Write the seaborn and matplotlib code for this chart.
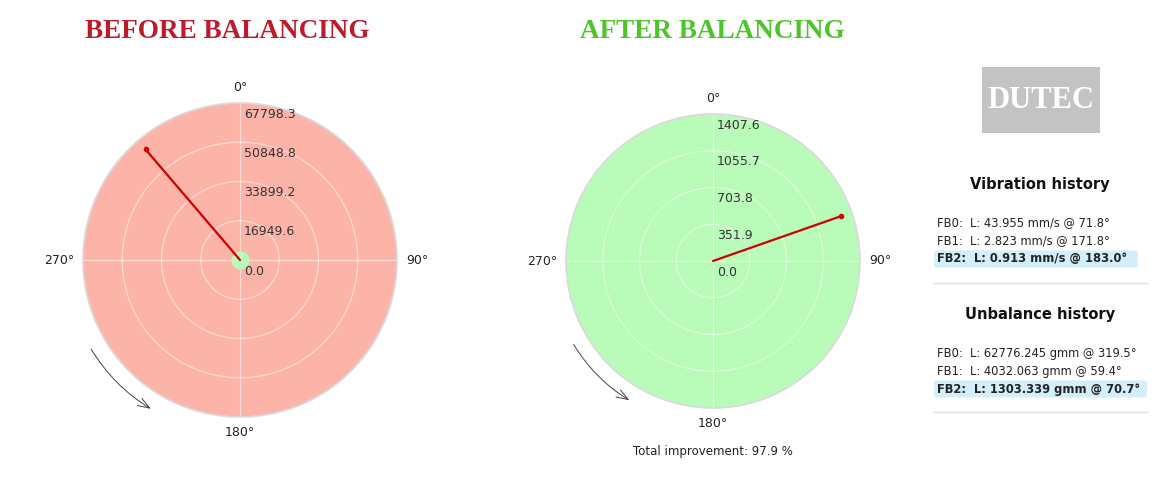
import numpy as np
import matplotlib
matplotlib.use("Agg")
import matplotlib.pyplot as plt
import seaborn as sns
from matplotlib.patches import FancyBboxPatch, Rectangle
from matplotlib.lines import Line2D

# --- data ---
before_angle = [319.5, 319.5]           # deg, unbalance FB0
before_mag = [0.0, 62776.245]           # gmm
before_ticks = [0.0, 16949.6, 33899.2, 50848.8, 67798.3]

after_angle = [70.7, 70.7]              # deg, unbalance FB2
after_mag = [0.0, 1303.339]             # gmm
after_ticks = [0.0, 351.9, 703.8, 1055.7, 1407.6]

compass_deg = [0, 90, 180, 270]
compass_lbl = ["0°", "90°", "180°", "270°"]

vib_lines = ["FB0:  L: 43.955 mm/s @ 71.8°",
             "FB1:  L: 2.823 mm/s @ 171.8°",
             "FB2:  L: 0.913 mm/s @ 183.0°"]
unb_lines = ["FB0:  L: 62776.245 gmm @ 319.5°",
             "FB1:  L: 4032.063 gmm @ 59.4°",
             "FB2:  L: 1303.339 gmm @ 70.7°"]
improvement = 97.9

RED_FACE = "#fcb4a8"
GREEN_FACE = "#b9fbb9"
LINE_RED = "#d00000"

sns.set_theme(style="white")
plt.rcParams["font.family"] = ["DejaVu Sans"]

W, H = 1158, 483
fig = plt.figure(figsize=(W / 100, H / 100), dpi=100)

# offsets (points) of the compass labels from the outer ring
compass_off = [(0, 11), (15, 0), (0, -11), (-17, 0)]


def px(x, y):
    # pixel position (from top-left) -> figure fraction
    return x / W, 1 - y / H


def polar_panel(cx, cy, r, angles, mags, ticks, face):
    ax = fig.add_axes([(cx - r) / W, (H - cy - r) / H, 2 * r / W, 2 * r / H],
                      projection="polar")
    ax.set_theta_zero_location("N")
    ax.set_theta_direction(-1)
    ax.set_facecolor(face)
    ax.set_ylim(0, ticks[-1])
    ax.set_xticks(np.radians(compass_deg))
    ax.set_xticklabels([])
    ax.set_yticks(ticks[1:])
    ax.set_yticklabels([])
    ax.grid(True, color="white", alpha=0.5, lw=0.9)
    ax.spines["polar"].set_color("#d9d9d9")
    ax.spines["polar"].set_linewidth(1.2)
    for d, lbl, off in zip(compass_deg, compass_lbl, compass_off):
        ax.annotate(lbl, xy=(np.radians(d), ticks[-1]), xytext=off,
                    textcoords="offset points", ha="center", va="center",
                    fontsize=9, color="#222222", annotation_clip=False)
    for t in ticks:
        ax.annotate(f"{t:.1f}", xy=(0, t), xytext=(3, -8), textcoords="offset points",
                    ha="left", va="center", fontsize=9, color="#333333",
                    annotation_clip=False)
    sns.lineplot(x=np.radians(angles), y=mags, ax=ax, sort=False, estimator=None,
                 color=LINE_RED, lw=1.6, zorder=3)
    ax.plot(np.radians(angles[-1]), mags[-1], "o", color=LINE_RED, ms=3, zorder=3)
    ax.set_xlabel("")
    ax.set_ylabel("")
    # rotation arrow outside lower-left
    rr = ticks[-1] * 1.105
    ax.annotate("", xy=(np.radians(210), rr), xytext=(np.radians(240), rr),
                arrowprops=dict(arrowstyle="->,head_length=0.7,head_width=0.25",
                                connectionstyle="arc3,rad=0.13",
                                color="#444444", lw=0.7),
                annotation_clip=False)
    return ax


ax1 = polar_panel(240, 260, 157, before_angle, before_mag, before_ticks, RED_FACE)
ax1.plot(0, 0, "o", color=GREEN_FACE, ms=12, zorder=2.5)

ax2 = polar_panel(713, 261, 147, after_angle, after_mag, after_ticks, GREEN_FACE)

# titles
fig.text(*px(227, 32), "BEFORE BALANCING", ha="center", va="center",
         family="Liberation Serif", weight="bold", fontsize=19.5, color="#be1a2c")
fig.text(*px(712, 32), "AFTER BALANCING", ha="center", va="center",
         family="Liberation Serif", weight="bold", fontsize=19.5, color="#4cc42a")
fig.text(*px(713, 452), f"Total improvement: {improvement} %", ha="center",
         va="center", fontsize=8.5, color="#222222")

# logo
lx0, ly1 = px(982, 133)
lx1, ly0 = px(1100, 67)
fig.patches.append(Rectangle((lx0, ly1), lx1 - lx0, ly0 - ly1, transform=fig.transFigure,
                             facecolor="#c3c3c3", edgecolor="none"))
fig.text(*px(1041, 101), "DUTEC", ha="center", va="center", family="Liberation Serif",
         weight="bold", fontsize=22, color="white")


def history(title_y, title, lines, line_ys, sep_y, box_right):
    fig.text(*px(1040, title_y), title, ha="center", va="center",
             fontsize=10.5, weight="bold", color="#111111")
    hy = line_ys[-1]
    bx0, by0 = px(934, hy + 8.5)
    bx1, by1 = px(box_right, hy - 8.5)
    fig.patches.append(FancyBboxPatch((bx0, by0), bx1 - bx0, by1 - by0,
                                      boxstyle="round,pad=0,rounding_size=0.004",
                                      transform=fig.transFigure,
                                      facecolor="#d3effb", edgecolor="none"))
    for i, (txt, y) in enumerate(zip(lines, line_ys)):
        fig.text(*px(937, y), txt, ha="left", va="center", fontsize=8.3,
                 color="#222222", weight="bold" if i == len(lines) - 1 else "normal")
    sx0, sy = px(933, sep_y)
    sx1, _ = px(1148, sep_y)
    fig.lines.append(Line2D([sx0, sx1], [sy, sy], transform=fig.transFigure,
                            color="#e3e3e3", lw=1))


history(185, "Vibration history", vib_lines, [223, 241, 259], 283, 1138)
history(315, "Unbalance history", unb_lines, [353, 371, 389], 412, 1147)

fig.savefig("out.png", dpi=100, facecolor="white")
